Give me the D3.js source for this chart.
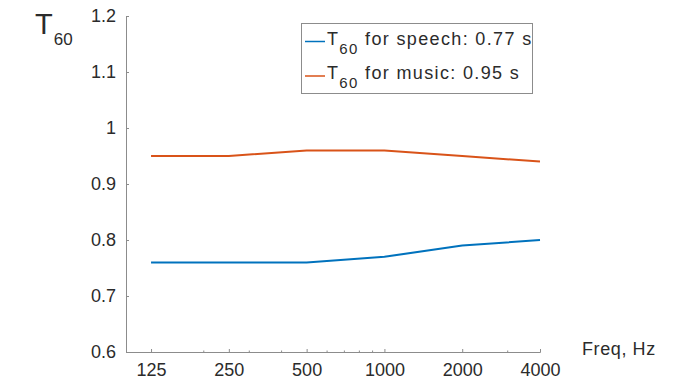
<!DOCTYPE html>
<html>
<head>
<script src="https://cdn.jsdelivr.net/npm/d3@7"></script>
<style>
  body { margin: 0; background: #fff; font-family: "Liberation Sans", Arial, sans-serif; }
  text { fill: #2b2b2b; }
</style>
</head>
<body>
<div id="chart"></div>
<script>
const freqs = [125, 250, 500, 1000, 2000, 4000];
const speech = [0.76, 0.76, 0.76, 0.77, 0.79, 0.80];
const music = [0.95, 0.95, 0.96, 0.96, 0.95, 0.94];
const yTicks = [0.6, 0.7, 0.8, 0.9, 1, 1.1, 1.2];
const minorTicks = [200, 300, 400, 600, 700, 800, 900, 3000];
const series = [
  { name: "speech", value: "0.77", values: speech, color: "#0072BD" },
  { name: "music", value: "0.95", values: music, color: "#D95319" }
];

const width = 677, height = 385;
const svg = d3.select("#chart").append("svg")
  .attr("width", width).attr("height", height);

const x = d3.scaleLog().base(2).domain([100, 4000]).range([126, 540]);
const y = d3.scaleLinear().domain([0.6, 1.2]).range([352, 16]);
const axisColor = "#8c8c8c";

// y axis
const gy = svg.append("g").attr("transform", `translate(${x.range()[0]},0)`)
  .call(d3.axisLeft(y).tickValues(yTicks).tickSize(-3).tickPadding(10)
    .tickFormat(d => d3.format("")(+d.toFixed(1))));
gy.select(".domain").attr("stroke", axisColor);
gy.selectAll(".tick line").attr("stroke", axisColor);
gy.selectAll("text").style("font-size", "18px").attr("fill", "#2b2b2b");

// x axis
const gx = svg.append("g").attr("transform", `translate(0,${y.range()[0]})`)
  .call(d3.axisBottom(x).tickValues(freqs).tickSize(-3).tickPadding(11).tickFormat(d3.format("d")));
gx.select(".domain").attr("stroke", axisColor);
gx.selectAll(".tick line").attr("stroke", axisColor);
gx.selectAll("text").style("font-size", "18px").attr("fill", "#2b2b2b");
svg.append("g").selectAll("line").data(minorTicks).join("line")
  .attr("x1", d => x(d)).attr("x2", d => x(d))
  .attr("y1", y.range()[0]).attr("y2", y.range()[0] - 1.5)
  .attr("stroke", axisColor);

// lines
const line = d3.line().x((d, i) => x(freqs[i])).y(d => y(d));
svg.append("g").selectAll("path").data(series).join("path")
  .attr("d", d => line(d.values))
  .attr("fill", "none")
  .attr("stroke", d => d.color)
  .attr("stroke-width", 2);

// axis labels
const yl = svg.append("text").attr("x", 35).attr("y", 34).style("font-size", "29px");
yl.append("tspan").text("T");
yl.append("tspan").attr("dy", 11).attr("dx", 1).style("font-size", "17px").text("60");
svg.append("text").attr("x", 582).attr("y", 355)
  .style("font-size", "18px").style("letter-spacing", "0.6px").text("Freq, Hz");

// legend
const legend = svg.append("g");
legend.append("rect").attr("x", 301.5).attr("y", 23.5).attr("width", 231).attr("height", 70)
  .attr("fill", "#fff").attr("stroke", "#8c8c8c");
const items = legend.selectAll("g").data(series).join("g")
  .attr("transform", (d, i) => `translate(0,${41.5 + i * 34.5})`);
items.append("line").attr("x1", 305).attr("x2", 325).attr("stroke", d => d.color).attr("stroke-width", 1.5);
const lt = items.append("text").attr("x", 327).attr("y", 3)
  .style("font-size", "18px").style("letter-spacing", "1.35px");
lt.append("tspan").text("T");
lt.append("tspan").attr("dy", 9).style("font-size", "15px").text("60");
lt.append("tspan").attr("dy", -9).text(d => ` for ${d.name}: ${d.value} s`);
</script>
</body>
</html>
